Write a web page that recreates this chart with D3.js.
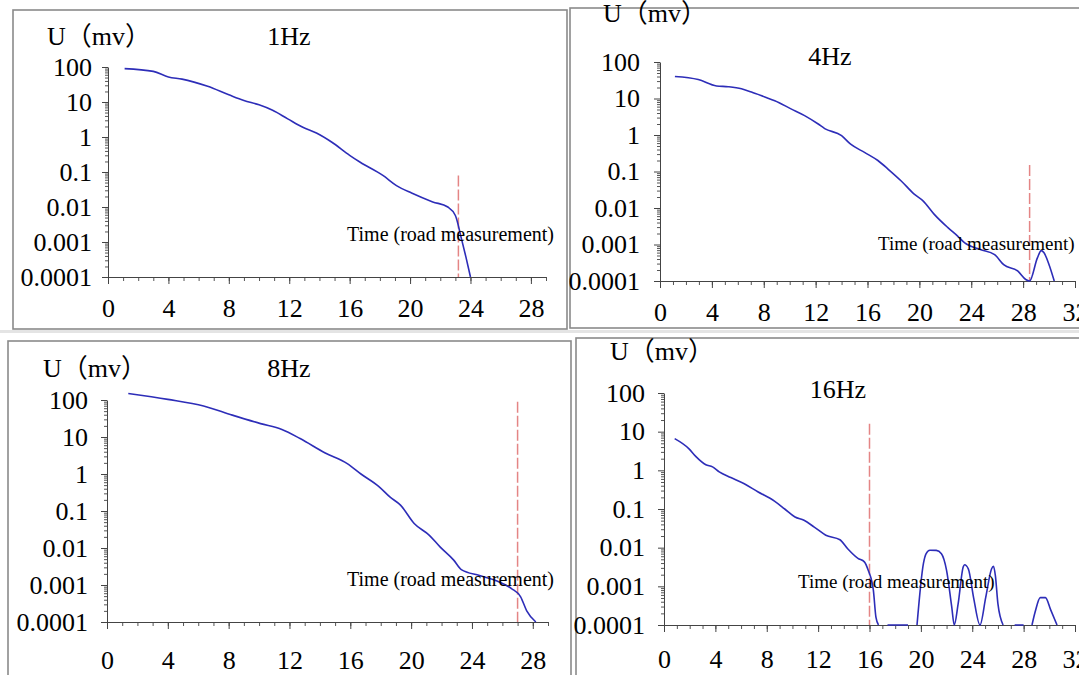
<!DOCTYPE html>
<html>
<head>
<meta charset="utf-8">
<script src="https://cdn.jsdelivr.net/npm/d3@7"></script>
<style>
  body { margin: 0; background: #fff; }
  svg { display: block; }
</style>
</head>
<body>
<main></main>
<script>
// values (time in s, U in mV)
const hz1Time = [1.1, 3.0, 4.0, 4.9, 5.7, 6.6, 8.0, 9.0, 10.0, 10.9, 11.9, 12.9, 13.8, 14.8, 16.0, 16.7, 18.2, 19.1, 20.1, 21.5, 22.5, 23.0, 23.4, 23.7, 24.0];
const hz1Volt = [90, 75, 52, 45, 37, 28, 16, 11, 8.3, 5.8, 3.3, 1.9, 1.3, 0.72, 0.30, 0.19, 0.08, 0.041, 0.025, 0.014, 0.010, 0.0057, 0.00125, 0.00037, 0.0001];

const hz4Time = [1.15, 2.95, 4.36, 5.26, 6.28, 7.05, 8.08, 8.85, 10.1, 11.15, 12.2, 12.7, 14.0, 14.7, 15.8, 16.8, 17.6, 18.6, 19.6, 20.3, 21.15, 22.2, 22.95, 23.5, 24.7, 25.8, 26.5, 27.6, 28.2, 28.5, 29.1, 29.4, 29.6, 30.0, 30.4];
const hz4Volt = [40, 33, 22, 21, 18.5, 15, 11, 8.7, 5.2, 3.4, 2.0, 1.5, 0.96, 0.56, 0.33, 0.20, 0.115, 0.055, 0.024, 0.0155, 0.0067, 0.0029, 0.0017, 0.0011, 0.00073, 0.00053, 0.00028, 0.000186, 0.00011, 0.0001, 0.00043, 0.00068, 0.0006, 0.00028, 0.0001];

const hz8Time = [1.4, 4.0, 6.35, 8.24, 10.1, 11.5, 12.7, 14.35, 15.8, 16.7, 17.9, 18.6, 19.3, 20.2, 21.2, 21.9, 22.8, 23.3, 24.5, 25.6, 26.6, 27.2, 27.6, 28.2];
const hz8Volt = [150, 104, 69, 39, 23, 16, 9.1, 3.7, 1.9, 1.0, 0.45, 0.24, 0.144, 0.046, 0.022, 0.0107, 0.0047, 0.0026, 0.0018, 0.0013, 0.0008, 0.00048, 0.0002, 0.0001];

// null = gap in the trace
const hz16Time = [0.83, 1.95, 2.47, 3.26, 3.78, 4.3, 5.2, 6.25, 7.3, 8.6, 9.4, 10.2, 10.9, 11.7, 12.6, 13.7, 14.3, 15.1, 15.6, 15.9, 16.3, 16.5, 16.7, 17.0,
                  17.4, 19.0, 19.3,
                  19.7, 20.2, 20.4, 20.7, 21.2, 21.6, 22.0, 22.4, 22.6, 22.9, 23.3, 23.4, 23.7, 24.1, 24.6, 25.05, 25.5, 25.65, 25.8, 26.0, 26.4, 26.9,
                  27.3, 28.0, 28.3,
                  28.65, 28.9, 29.3, 29.7, 30.1, 30.6];
const hz16Volt = [6.6, 3.6, 2.3, 1.4, 1.23, 0.91, 0.65, 0.45, 0.28, 0.16, 0.10, 0.062, 0.051, 0.034, 0.021, 0.016, 0.0094, 0.0053, 0.0043, 0.0026, 0.0008, 0.00016, 0.0001, null,
                  0.0001, 0.0001, null,
                  0.0001, 0.0039, 0.0069, 0.0086, 0.0085, 0.0070, 0.0026, 0.0003, 0.0001, 0.00035, 0.0032, 0.0036, 0.0028, 0.00052, 0.0001, 0.00052, 0.0028, 0.0033, 0.0019, 0.00035, 0.0001, null,
                  0.0001, 0.0001, null,
                  0.0001, 0.00022, 0.00051, 0.00051, 0.00025, 0.0001];

const freqTitles = ["1Hz", "4Hz", "8Hz", "16Hz"];
const markerTimes = [23.2, 28.5, 27, 16];
const markerTops = [0.08, 0.15, 90, 16];
const xMaxes = [29, 32, 29, 32];

const yTickValues = [0.0001, 0.001, 0.01, 0.1, 1, 10, 100];
const yTickLabels = ["0.0001", "0.001", "0.01", "0.1", "1", "10", "100"];
const xTickLabels28 = [0, 4, 8, 12, 16, 20, 24, 28];
const xTickLabels32 = [0, 4, 8, 12, 16, 20, 24, 28, 32];

const unitLabel = "U（mv）";
const noteLabel = "Time (road measurement)";

const SERIF = "'Liberation Serif', 'Times New Roman', 'Noto Sans CJK SC', serif";

// where each panel sits on the page
var layout = [
    { frame: [13, 10, 567, 329], x0: 108, x1: 546, yTop: 67, yBot: 277, yPad: 10, xPad: 14.5,
      unitX: 47, unitY: 45, titleX: 289, titleY: 45, noteX: 347, noteY: 241, noteSize: 20 },
    { frame: [570, 8, 1090, 328], x0: 660, x1: 1075, yTop: 62, yBot: 281, yPad: 14, xPad: 14.5,
      unitX: 603, unitY: 22, titleX: 830, titleY: 65, noteX: 878, noteY: 250, noteSize: 19 },
    { frame: [8, 341, 571, 690], x0: 107, x1: 548, yTop: 400, yBot: 622, yPad: 13, xPad: 21.5,
      unitX: 43, unitY: 377, titleX: 289, titleY: 377, noteX: 347, noteY: 586, noteSize: 20 },
    { frame: [576, 338, 1090, 690], x0: 664, x1: 1075, yTop: 393, yBot: 625, yPad: 13, xPad: 17.5,
      unitX: 610, unitY: 360, titleX: 838, titleY: 398, noteX: 798, noteY: 588, noteSize: 19 }
];

var series = [
    [hz1Time, hz1Volt, xTickLabels28],
    [hz4Time, hz4Volt, xTickLabels32],
    [hz8Time, hz8Volt, xTickLabels28],
    [hz16Time, hz16Volt, xTickLabels32]
];

var svg = d3.select("main").append("svg")
            .attr("width", 1079)
            .attr("height", 675);

svg.append("rect")
   .attr("width", 1079).attr("height", 675)
   .style("fill", "white");

// faint page seam between the two rows
svg.append("rect")
   .attr("x", 0).attr("y", 330).attr("width", 1079).attr("height", 3)
   .style("fill", "#e4e4e4");

function drawPanel (i) {
    var p = layout[i];
    var time = series[i][0];
    var volt = series[i][1];
    var xLabels = series[i][2];

    var x = d3.scaleLinear().domain([0, xMaxes[i]]).range([p.x0, p.x1]);
    var y = d3.scaleLog().domain([0.0001, 100]).range([p.yBot, p.yTop]);

    var g = svg.append("g");

    g.append("rect")
     .attr("x", p.frame[0])
     .attr("y", p.frame[1])
     .attr("width", p.frame[2] - p.frame[0])
     .attr("height", p.frame[3] - p.frame[1])
     .style("fill", "white")
     .style("stroke", "#8a8a8a")
     .style("stroke-width", 1.6);

    // minor log ticks on the y axis
    var minor = [];
    for (var e = -4; e < 2; e++) {
        for (var k = 2; k < 10; k++) minor.push(k * Math.pow(10, e));
    }
    g.append("g")
     .attr("transform", "translate(" + p.x0 + ",0)")
     .attr("color", "#555")
     .call(d3.axisLeft(y).tickValues(minor).tickSize(3).tickFormat(""))
     .call(a => a.select(".domain").remove());

    g.append("g")
     .attr("transform", "translate(" + p.x0 + ",0)")
     .attr("color", "#444")
     .call(d3.axisLeft(y).tickValues(yTickValues).tickSize(6).tickSizeOuter(0).tickPadding(p.yPad)
             .tickFormat((d, j) => yTickLabels[j]))
     .call(a => a.selectAll("text")
                 .style("font-family", SERIF)
                 .style("font-size", "26px")
                 .style("fill", "#000"));

    // unit ticks then labelled ticks on the x axis
    g.append("g")
     .attr("transform", "translate(0," + p.yBot + ")")
     .attr("color", "#555")
     .call(d3.axisBottom(x).tickValues(d3.range(0, xMaxes[i] + 1)).tickSize(4).tickFormat(""))
     .call(a => a.select(".domain").remove());

    g.append("g")
     .attr("transform", "translate(0," + p.yBot + ")")
     .attr("color", "#444")
     .call(d3.axisBottom(x).tickValues(xLabels).tickSize(7).tickSizeOuter(0).tickPadding(p.xPad)
             .tickFormat(d3.format("d")))
     .call(a => a.selectAll("text")
                 .style("font-family", SERIF)
                 .style("font-size", "26px")
                 .style("fill", "#000"));

    // measurement marker
    g.append("line")
     .attr("x1", x(markerTimes[i])).attr("x2", x(markerTimes[i]))
     .attr("y1", y(markerTops[i])).attr("y2", p.yBot)
     .style("stroke", "#e48585")
     .style("stroke-width", 1.5)
     .style("stroke-dasharray", "11,3");

    var pts = time.map((t, j) => [t, volt[j]]);
    var line = d3.line()
                 .defined(d => d[1] != null)
                 .x(d => x(d[0]))
                 .y(d => y(d[1]))
                 .curve(d3.curveMonotoneX);

    g.append("path")
     .datum(pts)
     .attr("d", line)
     .style("fill", "none")
     .style("stroke", "#2d2db8")
     .style("stroke-width", 1.6);

    g.append("text")
     .attr("x", p.unitX).attr("y", p.unitY)
     .style("font-family", SERIF)
     .style("font-size", "26px")
     .text(unitLabel);

    g.append("text")
     .attr("x", p.titleX).attr("y", p.titleY)
     .attr("text-anchor", "middle")
     .style("font-family", SERIF)
     .style("font-size", "26px")
     .text(freqTitles[i]);

    g.append("text")
     .attr("x", p.noteX).attr("y", p.noteY)
     .style("font-family", SERIF)
     .style("font-size", p.noteSize + "px")
     .text(noteLabel);
}

// draw left column last so the top-left frame sits over the seam
drawPanel(1);
drawPanel(3);
drawPanel(2);
drawPanel(0);
</script>
</body>
</html>
